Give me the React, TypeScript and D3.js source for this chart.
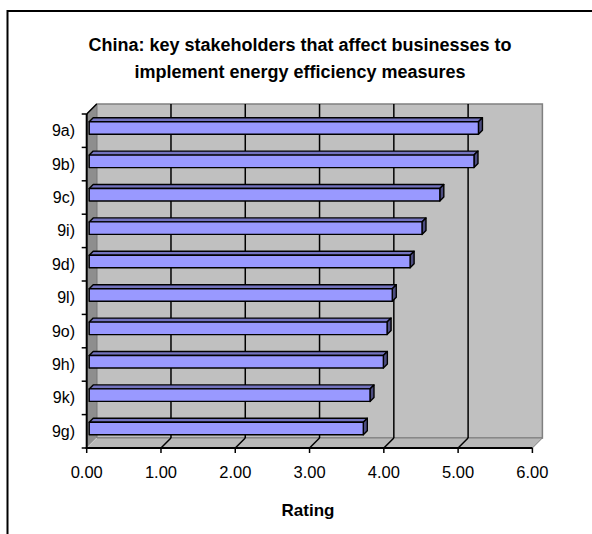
import React from 'react';
import * as d3 from 'd3';

// Chart data
const categories = ['9a)', '9b)', '9c)', '9i)', '9d)', '9l)', '9o)', '9h)', '9k)', '9g)'];
const ratings = [5.24, 5.18, 4.72, 4.48, 4.32, 4.08, 4.01, 3.96, 3.78, 3.69];
const tickValues = [0, 1, 2, 3, 4, 5, 6];
const titleLines = [
  'China: key stakeholders that affect businesses to',
  'implement energy efficiency measures',
];
const axisTitle = 'Rating';

const W = 592;
const H = 534;
const FONT = '"Liberation Sans", Arial, Helvetica, sans-serif';

// 3D projection: depth shifts right and up
const WALL_D = 10; // depth of the plot box
const BAR_OFF = 2.5; // gap between front plane and bar front face
const BAR_D = 4; // bar thickness in depth

const pts = (a: [number, number][]) => a.map((p) => p.join(',')).join(' ');

export default function App() {
  const x = d3.scaleLinear().domain([0, 6]).range([86.7, 532.4]);
  const y = d3.scaleBand<string>().domain(categories).range([114, 448]);
  const [yTop, yBot] = y.range();
  const xL = x(0);
  const xR = x(6);
  const D = WALL_D;

  const boundaries = [...categories.map((c) => y(c) as number), yBot];

  return (
    <svg
      width={W}
      height={H}
      style={{ position: 'absolute', left: 0, top: 0, background: '#fff' }}
      fontFamily={FONT}
    >
      <rect x={0} y={0} width={W} height={H} fill="#fff" />
      {/* chart area frame */}
      <path d={`M7.5,${H} V11 H${W}`} fill="none" stroke="#000" strokeWidth={2} />

      {/* title */}
      {titleLines.map((t, i) => (
        <text
          key={i}
          x={300}
          y={50.5 + i * 27}
          textAnchor="middle"
          fontSize={18}
          fontWeight="bold"
          fill="#000"
        >
          {t}
        </text>
      ))}

      {/* walls */}
      <polygon
        points={pts([
          [xL + D, yTop - D],
          [xR + D, yTop - D],
          [xR + D, yBot - D],
          [xL + D, yBot - D],
        ])}
        fill="#c0c0c0"
        stroke="#808080"
        strokeWidth={1.5}
      />
      <polygon
        points={pts([
          [xL, yTop],
          [xL + D, yTop - D],
          [xL + D, yBot - D],
          [xL, yBot],
        ])}
        fill="#8e8e8e"
        stroke="#808080"
        strokeWidth={1}
      />
      <polygon
        points={pts([
          [xL, yBot],
          [xR, yBot],
          [xR + D, yBot - D],
          [xL + D, yBot - D],
        ])}
        fill="#b8b8b8"
        stroke="#808080"
        strokeWidth={1}
      />
      <line x1={xL + 1} y1={yBot - 1} x2={xL + D} y2={yBot - D} stroke="#e0e0e0" strokeWidth={1} />

      {/* gridlines on back wall and floor */}
      {tickValues.slice(1, -1).map((v) => (
        <g key={v}>
          <line x1={x(v) + D} y1={yTop - D} x2={x(v) + D} y2={yBot - D} stroke="#000" strokeWidth={1.5} />
          <line x1={x(v)} y1={yBot} x2={x(v) + D} y2={yBot - D} stroke="#000" strokeWidth={1.5} />
        </g>
      ))}

      {/* bars */}
      {categories.map((c, i) => {
        const cy = (y(c) as number) + y.bandwidth() / 2;
        const xa = x(0) + BAR_OFF;
        const xb = x(ratings[i]) + BAR_OFF;
        const ya = cy - BAR_OFF - 6.5;
        const yb = cy - BAR_OFF + 6;
        const d = BAR_D;
        return (
          <g key={c} stroke="#000" strokeWidth={1.4} strokeLinejoin="round">
            <polygon
              points={pts([
                [xa, ya],
                [xa + d, ya - d],
                [xb + d, ya - d],
                [xb, ya],
              ])}
              fill="#7373bf"
            />
            <polygon
              points={pts([
                [xb, ya],
                [xb + d, ya - d],
                [xb + d, yb - d],
                [xb, yb],
              ])}
              fill="#4d4d80"
            />
            <rect x={xa} y={ya} width={xb - xa} height={yb - ya} fill="#9999ff" />
          </g>
        );
      })}

      {/* axes */}
      <line x1={xL} y1={yTop} x2={xL + D} y2={yTop - D} stroke="#000" strokeWidth={1.5} />
      <line x1={xL} y1={yTop} x2={xL} y2={yBot + 1} stroke="#000" strokeWidth={2} />
      <line x1={xL - 1} y1={yBot} x2={xR} y2={yBot} stroke="#000" strokeWidth={2} />
      {boundaries.map((b, i) => (
        <line key={i} x1={xL - 5} y1={b} x2={xL} y2={b} stroke="#000" strokeWidth={1.5} />
      ))}
      {tickValues.map((v) => (
        <line key={v} x1={x(v)} y1={yBot} x2={x(v)} y2={yBot + 5} stroke="#000" strokeWidth={1.5} />
      ))}

      {/* category labels */}
      {categories.map((c) => (
        <text
          key={c}
          x={75}
          y={(y(c) as number) + y.bandwidth() / 2 + 5.5}
          textAnchor="end"
          fontSize={16}
          fill="#000"
        >
          {c}
        </text>
      ))}

      {/* value tick labels */}
      {tickValues.map((v) => (
        <text key={v} x={x(v)} y={478} textAnchor="middle" fontSize={16.5} fill="#000">
          {v.toFixed(2)}
        </text>
      ))}

      <text x={308} y={515.5} textAnchor="middle" fontSize={17} fontWeight="bold" fill="#000">
        {axisTitle}
      </text>
    </svg>
  );
}
